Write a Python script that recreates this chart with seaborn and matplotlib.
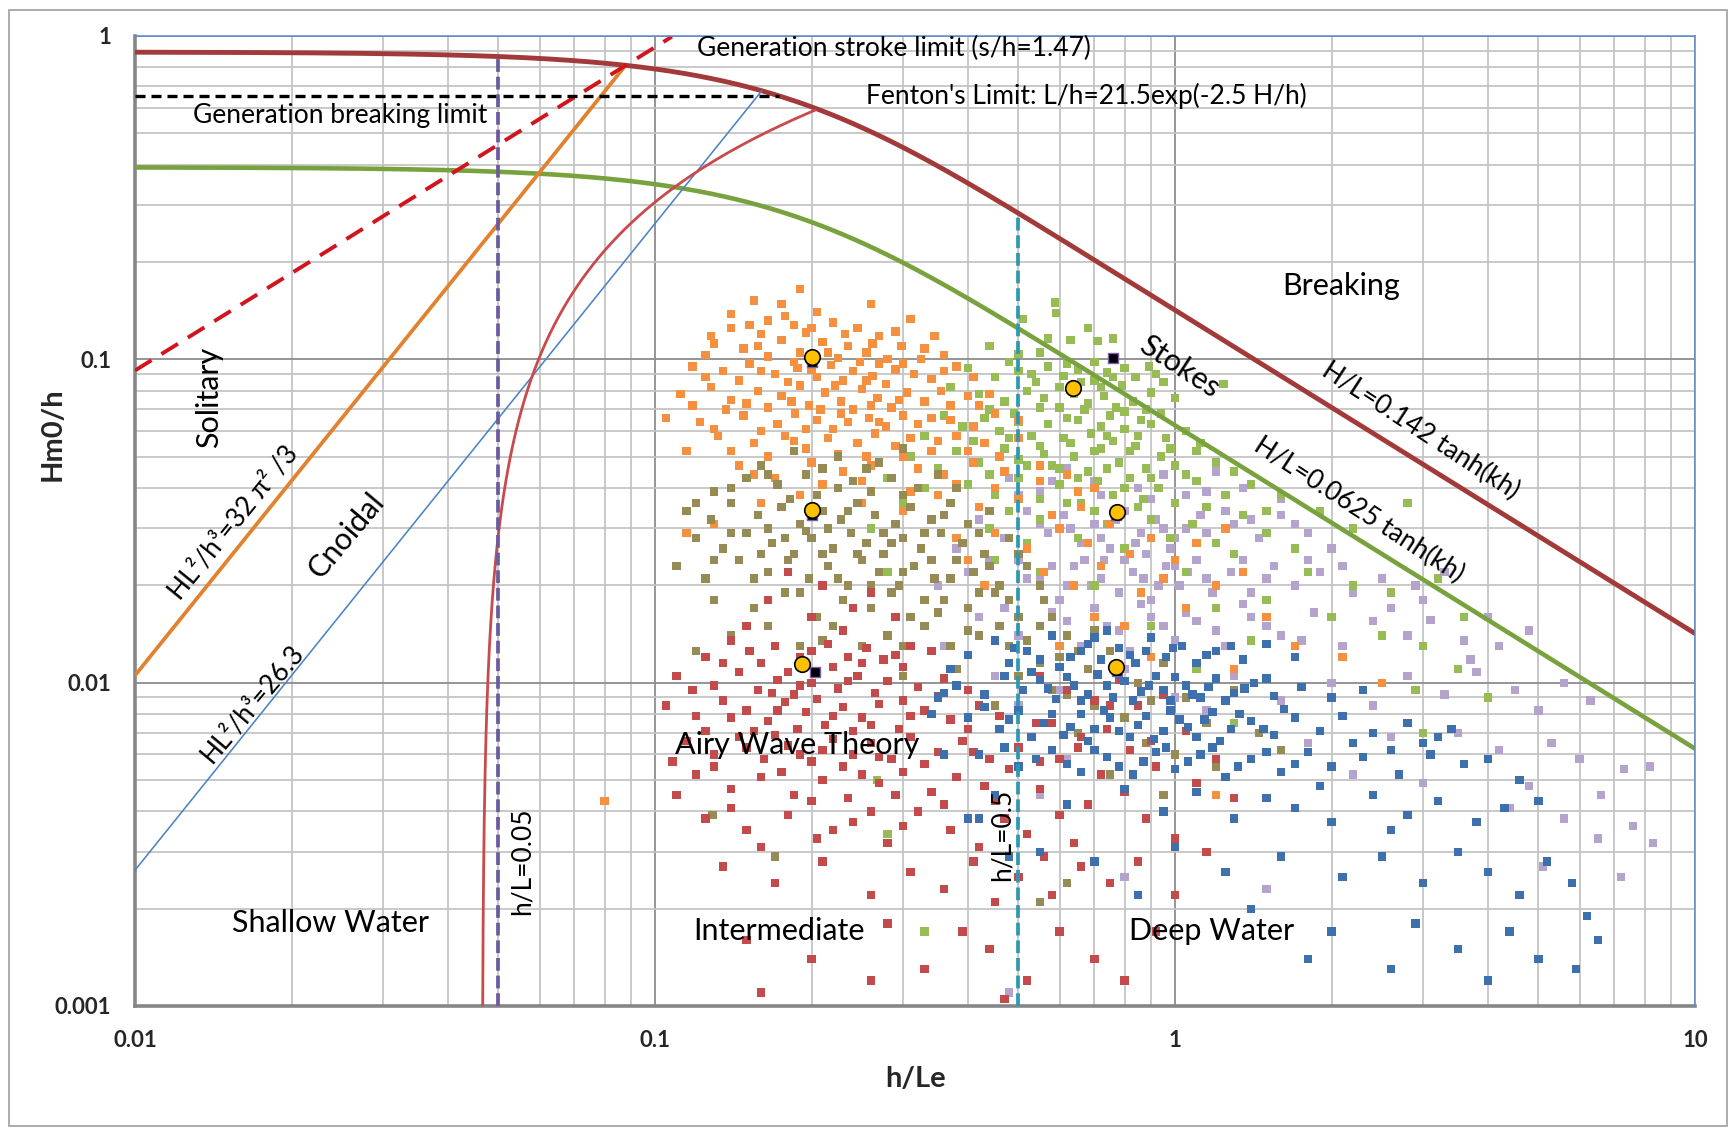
import numpy as np
import matplotlib
matplotlib.use("Agg")
import matplotlib.pyplot as plt
import seaborn as sns
from matplotlib.ticker import LogLocator, NullFormatter
from matplotlib.patches import Rectangle

# ---------------- data ----------------
x_ticks = [0.01, 0.1, 1, 10]
x_tick_labels = ["0.01", "0.1", "1", "10"]
y_ticks = [0.001, 0.01, 0.1, 1]
y_tick_labels = ["0.001", "0.01", "0.1", "1"]

# theoretical limits (coefficients as labelled on the chart)
BREAK_COEF = 0.142          # H/L = 0.142 tanh(kh)
STOKES_COEF = 0.0625        # H/L = 0.0625 tanh(kh)
STROKE_S_H = 1.47           # generation stroke limit s/h
GEN_BREAK = 0.65            # generation breaking limit H/h
URSELL_SOL = 32 * np.pi ** 2 / 3   # HL^2/h^3 = 32 pi^2 / 3
URSELL_CN = 26.3            # HL^2/h^3 = 26.3
FENTON_A, FENTON_B = 21.5, 2.5     # L/h = 21.5 exp(-2.5 H/h)
SHALLOW_LIM = 0.05          # h/L = 0.05
DEEP_LIM = 0.5              # h/L = 0.5

orange_pts = [
    (0.19,0.165),(0.155,0.152),(0.175,0.148),(0.26,0.148),(0.205,0.14),(0.14,0.138),
    (0.165,0.132),(0.185,0.128),(0.22,0.13),(0.245,0.125),(0.29,0.122),(0.16,0.12),(0.195,0.121),(0.31,0.133),(0.14,0.125),(0.27,0.118),
    (0.13,0.112),(0.148,0.108),(0.175,0.115),(0.21,0.113),(0.235,0.11),(0.255,0.105),(0.28,0.1),(0.33,0.108),(0.36,0.103),(0.165,0.102),(0.19,0.105),(0.125,0.103),(0.225,0.101),
    (0.118,0.095),(0.135,0.092),(0.152,0.097),(0.17,0.09),(0.188,0.094),(0.205,0.088),(0.218,0.096),(0.24,0.092),(0.262,0.089),(0.29,0.093),(0.315,0.09),(0.34,0.087),(0.38,0.095),(0.145,0.086),(0.23,0.086),(0.27,0.097),
    (0.112,0.078),(0.128,0.082),(0.14,0.075),(0.158,0.08),(0.175,0.077),(0.19,0.083),(0.198,0.072),(0.212,0.079),(0.228,0.074),(0.25,0.081),(0.268,0.076),(0.285,0.071),(0.305,0.079),(0.33,0.074),(0.355,0.08),(0.4,0.077),(0.42,0.072),(0.165,0.071),(0.24,0.07),(0.137,0.07),
    (0.105,0.066),(0.122,0.064),(0.148,0.067),(0.172,0.063),(0.186,0.068),(0.205,0.065),(0.22,0.061),(0.258,0.066),(0.278,0.062),(0.3,0.067),(0.32,0.063),(0.37,0.065),(0.45,0.068),(0.235,0.064),
    (0.132,0.058),(0.155,0.055),(0.178,0.058),(0.195,0.053),(0.215,0.057),(0.245,0.055),(0.265,0.059),(0.29,0.054),(0.31,0.057),(0.34,0.052),(0.38,0.058),(0.43,0.055),(0.5,0.057),(0.115,0.052),
    (0.145,0.047),(0.17,0.043),(0.2,0.048),(0.23,0.045),(0.26,0.047),(0.285,0.043),(0.32,0.046),(0.36,0.044),(0.41,0.048),(0.47,0.045),(0.55,0.047),(0.21,0.041),
    (0.19,0.038),(0.25,0.036),(0.3,0.034),(0.35,0.038),(0.42,0.035),(0.5,0.037),(0.58,0.033),(0.65,0.039),(0.13,0.031),(0.16,0.036),
    (0.45,0.029),(0.52,0.026),(0.6,0.03),(0.68,0.027),(0.75,0.031),(0.82,0.025),(0.9,0.028),(1.0,0.024),(1.1,0.027),(0.56,0.022),(0.64,0.02),(0.72,0.023),
    (0.86,0.019),(0.95,0.021),(1.2,0.02),(1.35,0.022),(0.48,0.018),(0.7,0.016),(0.8,0.015),(1.05,0.017),(1.5,0.016),(0.6,0.013),(0.9,0.012),(1.3,0.011),
    (1.7,0.013),(2.1,0.012),(2.5,0.01),(0.4,0.024),(0.43,0.02),(0.38,0.028),(1.25,0.03),(0.66,0.035),(2.0,0.009),
    (0.08,0.0043),(0.115,0.029),(1.2,0.0045),
    (0.128,0.118),(0.152,0.128),(0.178,0.136),(0.2,0.125),(0.232,0.12),(0.262,0.112),(0.298,0.11),(0.345,0.118),(0.158,0.11),(0.185,0.098),(0.215,0.105),(0.248,0.098),
    (0.3,0.097),(0.325,0.1),(0.41,0.088),(0.125,0.088),(0.16,0.092),(0.18,0.085),(0.2,0.093),(0.222,0.083),(0.255,0.086),(0.278,0.084),(0.36,0.092),(0.118,0.072),
    (0.15,0.073),(0.183,0.074),(0.208,0.07),(0.26,0.072),(0.295,0.075),(0.37,0.072),(0.44,0.078),(0.13,0.061),(0.16,0.06),(0.195,0.061),(0.228,0.068),(0.27,0.064),
    (0.34,0.066),(0.41,0.062),(0.5,0.065),(0.14,0.052),(0.165,0.05),(0.185,0.056),(0.225,0.051),(0.255,0.05),(0.3,0.05),(0.35,0.056),(0.4,0.052),(0.46,0.05),
    (0.155,0.044),(0.25,0.042),(0.31,0.039),(0.38,0.041),(0.45,0.04),(0.55,0.042),(0.62,0.044),(0.7,0.04),
]

olive_pts = [
    (0.185,0.052),(0.225,0.05),(0.16,0.047),(0.27,0.048),(0.3,0.053),(0.21,0.046),
    (0.15,0.043),(0.172,0.041),(0.195,0.044),(0.24,0.042),(0.26,0.039),(0.285,0.043),(0.32,0.04),(0.13,0.039),(0.205,0.038),(0.35,0.044),
    (0.115,0.034),(0.128,0.032),(0.14,0.036),(0.158,0.033),(0.175,0.035),(0.19,0.031),(0.21,0.034),(0.228,0.032),(0.245,0.036),(0.265,0.033),(0.29,0.031),(0.31,0.035),(0.34,0.032),(0.37,0.036),(0.4,0.031),(0.44,0.034),(0.182,0.037),(0.215,0.03),
    (0.12,0.028),(0.135,0.026),(0.15,0.029),(0.168,0.027),(0.185,0.025),(0.2,0.028),(0.22,0.026),(0.238,0.029),(0.255,0.027),(0.275,0.025),(0.3,0.028),(0.325,0.026),(0.355,0.029),(0.39,0.027),(0.43,0.025),(0.48,0.028),(0.16,0.025),(0.195,0.0295),
    (0.11,0.023),(0.125,0.021),(0.145,0.024),(0.165,0.022),(0.18,0.024),(0.198,0.021),(0.215,0.023),(0.235,0.02),(0.25,0.024),(0.27,0.022),(0.295,0.02),(0.315,0.023),(0.345,0.021),(0.38,0.024),(0.41,0.022),(0.46,0.02),(0.52,0.023),
    (0.13,0.018),(0.155,0.017),(0.178,0.019),(0.205,0.016),(0.23,0.018),(0.26,0.017),(0.285,0.019),(0.31,0.016),(0.36,0.018),(0.4,0.017),(0.45,0.019),(0.5,0.016),(0.56,0.018),
    (0.14,0.014),(0.19,0.013),(0.22,0.015),(0.25,0.013),(0.28,0.014),(0.33,0.015),(0.37,0.013),(0.42,0.014),(0.48,0.013),(0.55,0.015),(0.62,0.014),(0.12,0.0125),
    (0.6,0.012),(0.68,0.011),(0.75,0.0125),(0.85,0.01),(0.95,0.0115),(1.05,0.009),(0.58,0.0095),(0.7,0.0085),(0.8,0.0078),(0.9,0.0088),(1.15,0.0075),(1.3,0.0095),
    (0.65,0.007),(0.88,0.0065),(1.0,0.006),(1.2,0.0055),(1.45,0.007),(0.5,0.0105),(0.45,0.0085),(0.75,0.0052),(0.95,0.0045),(1.6,0.0062),(0.38,0.011),(0.3,0.0105),
    (0.129,0.0039),(0.17,0.0029),(0.62,0.0024),(0.55,0.0021),
    (0.165,0.044),(0.255,0.046),(0.14,0.04),(0.225,0.04),(0.3,0.038),(0.38,0.04),(0.12,0.036),(0.165,0.03),(0.2,0.033),(0.235,0.034),(0.275,0.029),(0.33,0.029),
    (0.36,0.033),(0.42,0.029),(0.14,0.029),(0.178,0.028),(0.21,0.025),(0.245,0.025),(0.285,0.027),(0.34,0.024),(0.37,0.021),(0.44,0.023),(0.5,0.025),(0.13,0.024),
    (0.155,0.021),(0.19,0.019),(0.225,0.021),(0.26,0.02),(0.3,0.022),(0.33,0.018),(0.42,0.019),(0.48,0.018),(0.55,0.02),(0.165,0.015),(0.21,0.0135),(0.3,0.013),
    (0.35,0.0165),(0.4,0.0145),(0.46,0.015),(0.52,0.0135),(0.58,0.016),(0.65,0.0125),(0.7,0.0145),(0.78,0.0105),(0.62,0.0092),(0.55,0.0115),
]

red_pts = [
    (0.18,0.022),(0.21,0.02),(0.165,0.018),(0.24,0.017),(0.2,0.016),(0.15,0.015),(0.23,0.0145),(0.26,0.019),(0.29,0.016),
    (0.14,0.0135),(0.17,0.013),(0.19,0.012),(0.215,0.0132),(0.235,0.012),(0.255,0.0128),(0.275,0.0118),(0.31,0.013),(0.125,0.012),(0.16,0.0115),(0.22,0.0112),(0.3,0.0112),(0.34,0.0125),
    (0.11,0.0105),(0.13,0.0098),(0.145,0.0108),(0.158,0.0095),(0.172,0.0102),(0.185,0.0092),(0.2,0.01),(0.225,0.0096),(0.245,0.0105),(0.265,0.0093),(0.28,0.0101),(0.32,0.0097),(0.36,0.0103),(0.4,0.0095),(0.18,0.0108),
    (0.105,0.0085),(0.12,0.0079),(0.135,0.0088),(0.15,0.0082),(0.165,0.0076),(0.178,0.0087),(0.195,0.0081),(0.212,0.0074),(0.23,0.0084),(0.25,0.0078),(0.27,0.0086),(0.295,0.0072),(0.33,0.0082),(0.37,0.0077),(0.42,0.0085),(0.46,0.0079),(0.155,0.0071),(0.205,0.0089),
    (0.115,0.0066),(0.13,0.006),(0.145,0.0068),(0.162,0.0058),(0.18,0.0064),(0.2,0.0057),(0.22,0.0067),(0.24,0.006),(0.26,0.0065),(0.285,0.0058),(0.31,0.0068),(0.35,0.0061),(0.39,0.0066),(0.44,0.0058),(0.5,0.0063),(0.108,0.0057),
    (0.12,0.0052),(0.14,0.0047),(0.16,0.0051),(0.185,0.0045),(0.21,0.005),(0.235,0.0044),(0.27,0.0049),(0.3,0.0053),(0.34,0.0046),(0.38,0.0051),(0.43,0.0048),(0.48,0.0054),(0.55,0.0047),(0.11,0.0045),
    (0.125,0.0038),(0.15,0.0035),(0.18,0.0039),(0.205,0.0033),(0.24,0.0037),(0.28,0.0032),(0.32,0.004),(0.37,0.0035),(0.42,0.0031),(0.47,0.0038),(0.52,0.0034),(0.6,0.0039),(0.16,0.0031),
    (0.135,0.0027),(0.17,0.0024),(0.21,0.0028),(0.26,0.0022),(0.31,0.0026),(0.36,0.0023),(0.41,0.0028),(0.45,0.0021),(0.5,0.0025),(0.58,0.0022),(0.66,0.0027),(0.75,0.0024),
    (0.15,0.0016),(0.2,0.0014),(0.28,0.0018),(0.33,0.0013),(0.39,0.0017),(0.44,0.0015),(0.52,0.0012),(0.6,0.0017),(0.7,0.0014),(0.8,0.0012),(0.16,0.0011),(0.47,0.00105),(0.26,0.0012),
    (0.55,0.0105),(0.62,0.0095),(0.7,0.0088),(0.78,0.0102),(0.85,0.0085),(0.95,0.0092),(0.58,0.0075),(0.66,0.0068),(0.74,0.0072),(0.82,0.0062),(0.9,0.0066),(1.05,0.0071),
    (0.6,0.0058),(0.72,0.0052),(0.8,0.0046),(0.92,0.0055),(1.1,0.0049),(1.2,0.0058),(0.68,0.0042),(0.88,0.0038),(1.0,0.0033),(1.15,0.003),(0.64,0.0032),(0.56,0.0029),
    (0.85,0.0028),(1.0,0.0022),(0.92,0.0017),(1.3,0.0044),
    (0.135,0.0115),(0.152,0.0125),(0.2,0.0125),(0.25,0.0115),(0.29,0.0122),(0.118,0.0095),(0.168,0.0093),(0.19,0.0098),(0.235,0.0101),(0.3,0.0088),(0.35,0.0091),
    (0.14,0.0078),(0.172,0.0082),(0.188,0.0072),(0.22,0.0079),(0.24,0.0071),(0.26,0.0074),(0.31,0.0079),(0.4,0.0072),(0.125,0.0071),(0.15,0.0063),(0.17,0.0069),
    (0.19,0.006),(0.21,0.0062),(0.23,0.0055),(0.27,0.0059),(0.33,0.0056),(0.41,0.0061),(0.13,0.0055),(0.175,0.0053),(0.25,0.0052),(0.29,0.0045),(0.36,0.0042),
    (0.45,0.0043),(0.2,0.0043),(0.14,0.0041),(0.26,0.004),(0.22,0.0035),(0.3,0.0036),(0.55,0.0057),(0.65,0.0063),(0.75,0.0085),(0.7,0.0062),(0.54,0.0075),
]

green_pts = [
    (0.587,0.15),(0.59,0.139),(0.51,0.133),(0.44,0.11),(0.57,0.116),(0.63,0.115),(0.71,0.114),(0.76,0.116),(0.89,0.095),(1.24,0.084),(0.68,0.125),(0.5,0.104),
    (0.4,0.094),(0.45,0.088),(0.5,0.092),(0.54,0.085),(0.57,0.095),(0.61,0.089),(0.65,0.093),(0.7,0.086),(0.74,0.091),(0.79,0.083),(0.84,0.088),(0.9,0.079),(0.95,0.085),
    (0.42,0.078),(0.47,0.074),(0.52,0.08),(0.56,0.076),(0.6,0.071),(0.64,0.078),(0.68,0.073),(0.73,0.077),(0.77,0.071),(0.83,0.074),(0.88,0.07),(1.0,0.076),(0.37,0.082),
    (0.36,0.067),(0.39,0.062),(0.43,0.066),(0.46,0.06),(0.5,0.064),(0.53,0.058),(0.57,0.063),(0.61,0.057),(0.65,0.065),(0.69,0.059),(0.72,0.062),(0.76,0.056),(0.8,0.061),(0.85,0.058),(0.9,0.063),(0.96,0.057),(1.05,0.06),(1.12,0.055),(0.33,0.058),
    (0.38,0.052),(0.42,0.048),(0.47,0.053),(0.52,0.047),(0.56,0.051),(0.6,0.046),(0.64,0.05),(0.68,0.045),(0.72,0.053),(0.78,0.048),(0.82,0.052),(0.88,0.046),(0.94,0.05),(1.0,0.047),(1.1,0.052),(1.2,0.048),(0.31,0.05),(0.35,0.046),
    (0.4,0.041),(0.45,0.038),(0.5,0.043),(0.55,0.037),(0.6,0.041),(0.66,0.036),(0.71,0.042),(0.76,0.038),(0.82,0.043),(0.87,0.037),(0.93,0.04),(1.0,0.036),(1.1,0.042),(1.25,0.038),(1.4,0.041),(0.33,0.04),(0.28,0.043),
    (0.44,0.03),(0.52,0.027),(0.58,0.033),(0.65,0.028),(0.74,0.031),(0.8,0.026),(0.9,0.032),(0.98,0.028),(1.08,0.031),(1.2,0.027),(1.35,0.033),(1.5,0.029),(1.7,0.026),(0.38,0.028),
    (1.6,0.038),(1.9,0.034),(2.2,0.03),(2.8,0.036),(1.8,0.022),(2.2,0.02),(2.6,0.019),(3.2,0.021),(1.5,0.018),(2.0,0.016),(2.5,0.014),(3.0,0.013),(3.6,0.016),
    (1.2,0.017),(1.4,0.0135),(2.9,0.0095),(3.5,0.011),(4.0,0.009),(1.1,0.011),(0.9,0.015),(0.7,0.02),(0.55,0.022),(0.45,0.024),(1.3,0.0075),(3.0,0.007),
    (0.3,0.036),(0.26,0.03),(0.28,0.022),(0.267,0.005),(0.28,0.0034),(0.33,0.0017),
    (0.48,0.098),(0.55,0.105),(0.62,0.097),(0.7,0.098),(0.8,0.094),(0.53,0.09),(0.6,0.082),(0.66,0.085),(0.72,0.082),(0.76,0.088),(0.92,0.09),(0.44,0.07),
    (0.49,0.068),(0.55,0.071),(0.62,0.066),(0.67,0.07),(0.75,0.067),(0.8,0.069),(0.86,0.065),(0.94,0.068),(0.41,0.056),(0.48,0.057),(0.55,0.054),(0.63,0.055),
    (0.7,0.052),(0.74,0.058),(0.84,0.054),(0.98,0.053),(0.44,0.044),(0.5,0.049),(0.58,0.047),(0.65,0.043),(0.74,0.046),(0.8,0.04),(0.9,0.043),(1.05,0.044),
    (0.48,0.034),(0.55,0.032),(0.62,0.036),(0.7,0.034),(0.85,0.035),(1.15,0.035),(1.3,0.045),(1.5,0.034),(1.3,0.025),(1.05,0.022),
]

lavender_pts = [
    (0.62,0.046),(0.7,0.042),(0.78,0.048),(0.85,0.04),(0.95,0.044),(1.05,0.038),(0.55,0.039),(1.2,0.045),(1.35,0.04),(0.48,0.043),(1.6,0.037),(0.66,0.036),
    (0.42,0.032),(0.47,0.028),(0.52,0.034),(0.57,0.029),(0.61,0.033),(0.66,0.027),(0.7,0.031),(0.75,0.026),(0.8,0.034),(0.86,0.029),(0.92,0.032),(0.98,0.026),
    (1.05,0.03),(1.12,0.033),(1.2,0.027),(1.3,0.031),(1.45,0.028),(1.6,0.033),(1.8,0.029),(2.0,0.026),(0.38,0.026),(0.88,0.025),
    (0.4,0.022),(0.45,0.019),(0.5,0.024),(0.55,0.021),(0.6,0.018),(0.64,0.023),(0.69,0.02),(0.73,0.024),(0.78,0.019),(0.83,0.022),(0.9,0.018),(0.96,0.023),
    (1.02,0.02),(1.1,0.024),(1.18,0.019),(1.28,0.022),(1.4,0.019),(1.55,0.023),(1.7,0.02),(1.9,0.022),(2.2,0.019),(2.5,0.021),(2.9,0.02),(3.3,0.022),(0.35,0.02),
    (0.42,0.016),(0.5,0.014),(0.58,0.0165),(0.66,0.013),(0.74,0.015),(0.82,0.0125),(0.9,0.016),(1.0,0.0135),(1.1,0.0155),(1.25,0.013),(1.4,0.016),(1.6,0.014),
    (1.85,0.0165),(2.1,0.013),(2.4,0.0155),(2.8,0.014),(3.1,0.0156),(3.7,0.0118),(4.2,0.013),(4.8,0.0145),(0.36,0.013),
    (0.45,0.0105),(0.6,0.0095),(0.8,0.011),(1.0,0.009),(1.3,0.0105),(1.6,0.0088),(2.0,0.01),(2.4,0.0085),(2.8,0.0105),(3.3,0.0092),(3.8,0.0108),(4.5,0.0095),
    (5.0,0.0082),(5.6,0.01),(6.3,0.0088),(0.5,0.0085),(1.15,0.0082),
    (1.8,0.0065),(2.6,0.0068),(3.5,0.007),(4.2,0.0062),(5.3,0.0065),(6.0,0.0058),(7.3,0.0054),(8.2,0.0055),(2.2,0.0052),(3.0,0.0049),(4.8,0.0048),(6.6,0.0045),
    (5.6,0.0038),(6.5,0.0033),(7.6,0.0036),(8.3,0.0032),(4.4,0.0041),(5.1,0.0027),(7.2,0.0025),(1.5,0.0023),(0.48,0.0011),(0.8,0.0025),(0.55,0.0045),(0.62,0.0058),
    (0.5,0.038),(0.58,0.042),(0.72,0.038),(0.9,0.037),(1.15,0.039),(0.55,0.031),(0.63,0.03),(0.72,0.028),(0.77,0.032),(0.84,0.027),(0.95,0.03),(1.0,0.028),
    (1.15,0.029),(1.25,0.034),(1.4,0.032),(1.7,0.031),(0.44,0.024),(0.52,0.021),(0.58,0.023),(0.62,0.02),(0.67,0.024),(0.72,0.021),(0.8,0.024),(0.87,0.021),
    (0.93,0.02),(1.0,0.023),(1.06,0.022),(1.15,0.021),(1.35,0.024),(1.5,0.021),(1.8,0.024),(2.1,0.023),(0.47,0.017),(0.55,0.015),(0.62,0.0155),(0.7,0.017),
    (0.78,0.0145),(0.86,0.0175),(0.95,0.015),(1.05,0.0165),(1.2,0.0145),(1.35,0.0175),(1.5,0.015),(1.75,0.0135),(2.0,0.016),(2.6,0.017),(3.0,0.018),(3.6,0.0135),(4.0,0.016),
]

blue_pts = [
    (0.45,0.0135),(0.52,0.0125),(0.58,0.014),(0.63,0.012),(0.68,0.0132),(0.72,0.0118),(0.78,0.0128),(0.84,0.0115),(0.9,0.0138),(0.96,0.012),(1.03,0.013),(1.1,0.0115),
    (1.2,0.0125),(1.35,0.0118),(1.5,0.0132),(0.48,0.0115),(0.6,0.0112),(0.74,0.0145),(1.7,0.012),(0.4,0.0122),
    (0.38,0.0098),(0.43,0.0092),(0.47,0.0105),(0.51,0.0095),(0.55,0.0102),(0.59,0.0089),(0.64,0.0098),(0.68,0.0092),(0.71,0.0106),(0.76,0.009),(0.8,0.0101),(0.86,0.0094),
    (0.92,0.0105),(0.98,0.0088),(1.05,0.0098),(1.12,0.009),(1.2,0.0103),(1.3,0.0093),(1.42,0.01),(1.55,0.0091),(1.75,0.0097),(2.0,0.009),(2.3,0.0095),(0.35,0.009),
    (0.4,0.0078),(0.46,0.0072),(0.5,0.0082),(0.56,0.0075),(0.61,0.0069),(0.66,0.008),(0.7,0.0072),(0.75,0.0078),(0.82,0.0068),(0.88,0.0079),(0.95,0.0071),(1.02,0.0077),
    (1.1,0.0068),(1.18,0.0081),(1.28,0.0072),(1.4,0.0076),(1.55,0.0069),(1.7,0.0078),(1.9,0.0071),(2.1,0.0079),(2.4,0.007),(2.8,0.0075),(3.2,0.0068),
    (0.42,0.006),(0.5,0.0055),(0.58,0.0062),(0.66,0.0053),(0.74,0.0059),(0.83,0.0052),(0.92,0.0061),(1.0,0.0054),(1.12,0.006),(1.25,0.0051),(1.4,0.0058),(1.6,0.0053),
    (1.8,0.0061),(2.0,0.0055),(2.3,0.0059),(2.7,0.0052),(3.1,0.006),(3.6,0.0056),
    (0.45,0.0045),(0.62,0.0042),(0.8,0.0047),(0.95,0.004),(1.1,0.0046),(1.3,0.0038),(1.5,0.0044),(1.7,0.0041),(2.0,0.0037),(2.4,0.0045),(2.8,0.0039),(3.2,0.0043),
    (3.8,0.0037),(4.3,0.0041),(1.9,0.0048),(2.6,0.0035),
    (0.55,0.003),(0.7,0.0028),(1.0,0.0031),(1.25,0.0026),(1.6,0.0029),(2.1,0.0025),(2.5,0.0029),(3.0,0.0024),(3.5,0.003),(4.0,0.0026),(4.6,0.0022),(5.2,0.0028),
    (5.8,0.0024),(6.2,0.0019),(0.85,0.0022),(1.4,0.002),(2.0,0.0017),(2.9,0.0018),(3.5,0.0015),(4.4,0.0017),(5.0,0.0014),(5.9,0.0013),(6.5,0.0016),(1.8,0.0014),
    (2.6,0.0013),(4.0,0.0012),(0.48,0.0029),
    (0.34,0.008),(0.36,0.0093),(0.4,0.0038),(0.42,0.0038),(0.37,0.011),(0.36,0.006),
    (0.49,0.0128),(0.55,0.0118),(0.66,0.0125),(0.7,0.0138),(0.82,0.0122),(0.88,0.0125),(0.99,0.0128),(1.15,0.0122),(1.28,0.013),(0.53,0.0108),(0.57,0.0096),(0.62,0.0104),
    (0.66,0.0088),(0.74,0.0098),(0.78,0.0106),(0.83,0.0088),(0.89,0.0098),(0.95,0.0095),(1.0,0.0104),(1.08,0.0092),(1.16,0.0097),(1.25,0.0088),(1.36,0.0096),(1.5,0.0103),
    (0.43,0.0084),(0.48,0.0077),(0.53,0.0068),(0.58,0.008),(0.63,0.0073),(0.68,0.0066),(0.73,0.0082),(0.78,0.0071),(0.85,0.0074),(0.91,0.0067),(0.98,0.0082),(1.06,0.0073),
    (1.14,0.0077),(1.22,0.0066),(1.33,0.008),(1.48,0.0072),(1.62,0.0083),(0.47,0.0063),(0.54,0.0058),(0.62,0.0056),(0.7,0.0062),(0.78,0.0055),(0.87,0.0057),(0.96,0.0063),
    (1.06,0.0057),(1.18,0.0063),(1.32,0.0055),(1.5,0.0061),(1.7,0.0056),(2.2,0.0065),(2.6,0.0062),(3.0,0.0065),(3.4,0.0072),(4.0,0.0058),(4.6,0.005),(5.0,0.0043),
]

target_x = [0.2, 0.2, 0.192, 0.637, 0.773, 0.77]
target_y = [0.102, 0.0343, 0.0114, 0.0813, 0.0336, 0.0112]
measured_x = [0.2, 0.2, 0.203, 0.76, 0.77, 0.772]
measured_y = [0.098, 0.033, 0.0108, 0.101, 0.033, 0.0109]

# ---------------- styling ----------------
sns.set_style("white")
plt.rcParams["font.family"] = ["Lato", "DejaVu Sans"]

W, H = 1730, 1128
fig = plt.figure(figsize=(W / 100, H / 100), dpi=100)
ax = fig.add_axes([135 / W, 1 - 1006 / H, 1560 / W, 970 / H])
ax.set_xscale("log")
ax.set_yscale("log")

# ---------------- scatter clouds ----------------
series = [
    (lavender_pts, "#B4A3CC"),
    (green_pts, "#97BC55"),
    (orange_pts, "#F59040"),
    (olive_pts, "#968B55"),
    (red_pts, "#C44B4B"),
    (blue_pts, "#3D70AD"),
]
for pts, col in series:
    px = [p[0] for p in pts]
    py = [p[1] for p in pts]
    sns.scatterplot(x=px, y=py, ax=ax, marker="s", s=36, color=col,
                    linewidth=0, edgecolor="none", zorder=3, legend=False)

# ---------------- theoretical curves ----------------
def breaking(x):
    return BREAK_COEF * np.tanh(2 * np.pi * x) / x

xs = np.logspace(-2, 1, 800)
line_kw = dict(ax=ax, estimator=None, sort=False, legend=False)

# Stokes steepness limit (green)
sns.lineplot(x=xs, y=STOKES_COEF * np.tanh(2 * np.pi * xs) / xs, color="#78A23E", lw=3.3, zorder=5, **line_kw)
# Breaking limit (dark red)
sns.lineplot(x=xs, y=breaking(xs), color="#A33A3A", lw=3.5, zorder=5, **line_kw)

# Ursell lines
m = URSELL_SOL * xs ** 2 <= breaking(xs)
sns.lineplot(x=xs[m], y=URSELL_SOL * xs[m] ** 2, color="#E2812E", lw=2.7, zorder=5, **line_kw)
m = URSELL_CN * xs ** 2 <= breaking(xs)
sns.lineplot(x=xs[m], y=URSELL_CN * xs[m] ** 2, color="#4A84C4", lw=1.15, zorder=5, **line_kw)

# Fenton limit
ys = np.logspace(-3, 0, 800)
xf = np.exp(FENTON_B * ys) / FENTON_A
m = ys <= breaking(xf)
sns.lineplot(x=xf[m], y=ys[m], color="#C94A4C", lw=2.0, zorder=5, **line_kw)

# Generation stroke limit (red dashed)
ystroke = STROKE_S_H * 2 * np.pi * xs
m = ystroke <= 1.0
sns.lineplot(x=xs[m], y=ystroke[m], color="#D2141E", lw=2.8, linestyle=(0, (5.0, 3.0)), zorder=6, **line_kw)

# Generation breaking limit (black dashed)
m = breaking(xs) >= GEN_BREAK
sns.lineplot(x=xs[m], y=np.full(m.sum(), GEN_BREAK), color="black", lw=2.4, linestyle=(0, (3.0, 1.8)), zorder=6, **line_kw)

# depth limits
for xv, col in [(SHALLOW_LIM, "#6B5B9E"), (DEEP_LIM, "#2D98B2")]:
    sns.lineplot(x=[xv, xv], y=[0.001, breaking(xv)], color=col, lw=2.7,
                 linestyle=(0, (3.4, 1.3)), zorder=6, **line_kw)

# highlighted cases
sns.scatterplot(x=measured_x, y=measured_y, ax=ax, marker="s", s=55, color="black",
                edgecolor="#7B5FA8", linewidth=1.0, zorder=7, legend=False)
sns.scatterplot(x=target_x, y=target_y, ax=ax, marker="o", s=125, color="#FFC000",
                edgecolor="black", linewidth=1.2, zorder=8, legend=False)

# ---------------- axes ----------------
ax.set_xlim(0.01, 10)
ax.set_ylim(0.001, 1)
ax.set_xticks(x_ticks, labels=x_tick_labels, fontsize=16, fontweight="bold")
ax.set_yticks(y_ticks, labels=y_tick_labels, fontsize=16, fontweight="bold")
ax.xaxis.set_minor_locator(LogLocator(base=10, subs=np.arange(2, 10)))
ax.yaxis.set_minor_locator(LogLocator(base=10, subs=np.arange(2, 10)))
ax.xaxis.set_minor_formatter(NullFormatter())
ax.yaxis.set_minor_formatter(NullFormatter())
ax.set_axisbelow(True)
ax.grid(which="major", color="#8C8C8C", lw=1.3)
ax.grid(which="minor", color="#C3C3C3", lw=1.25)
ax.tick_params(which="minor", length=0)
ax.tick_params(which="major", length=6, width=2.4, color="#888888")
ax.tick_params(axis="x", pad=11)
ax.tick_params(axis="y", pad=11)
ax.set_xlabel("")
ax.set_ylabel("")
for s in ("left", "bottom"):
    ax.spines[s].set_color("#868686")
    ax.spines[s].set_linewidth(2.6)
for s in ("top", "right"):
    ax.spines[s].set_color("#5B8AC9")
    ax.spines[s].set_linewidth(1.1)
    ax.spines[s].set_zorder(10)

# ---------------- annotations ----------------
small = 19
big = 22
txt = dict(ha="left", va="center", color="black", zorder=12)
ax.text(0.1205, 0.912, "Generation stroke limit (s/h=1.47)", fontsize=small, **txt)
ax.text(0.255, 0.652, "Fenton's Limit: L/h=21.5exp(-2.5 H/h)", fontsize=small, **txt)
ax.text(0.0129, 0.569, "Generation breaking limit", fontsize=small, **txt)
ax.text(1.61, 0.168, "Breaking", fontsize=big, **txt)
ax.text(0.1093, 0.00643, "Airy Wave Theory", fontsize=big, **txt)
ax.text(0.01537, 0.00181, "Shallow Water", fontsize=big, **txt)
ax.text(0.1183, 0.0017, "Intermediate", fontsize=big, **txt)
ax.text(0.816, 0.0017, "Deep Water", fontsize=big, **txt)

ctr = dict(ha="center", va="center", color="black", zorder=12, rotation_mode="anchor")
ax.text(1.02, 0.0945, "Stokes", fontsize=big, rotation=-33, **ctr)
ax.text(2.97, 0.0603, "H/L=0.142 tanh(kh)", fontsize=small, rotation=-33, **ctr)
ax.text(2.26, 0.0341, "H/L=0.0625 tanh(kh)", fontsize=small, rotation=-33, **ctr)
ax.text(0.0139, 0.0762, "Solitary", fontsize=big, rotation=90, **ctr)
ax.text(0.0155, 0.0313, "HL²/h³=32 π² /3", fontsize=small, rotation=51, **ctr)
ax.text(0.0255, 0.0285, "Cnoidal", fontsize=big, rotation=50, **ctr)
ax.text(0.0168, 0.0086, "HL²/h³=26.3", fontsize=small, rotation=50, **ctr)
ax.text(0.0555, 0.00281, "h/L=0.05", fontsize=small, rotation=90, **ctr)
ax.text(0.465, 0.00338, "h/L=0.5", fontsize=small, rotation=90, **ctr)

fig.text(53 / W, 1 - 434 / H, "Hm0/h", rotation=90, fontsize=21, fontweight="bold",
         ha="center", va="center")
fig.text(916 / W, 1 - 1079 / H, "h/Le", fontsize=21, fontweight="bold",
         ha="center", va="center")

fig.add_artist(Rectangle((9 / W, 1 - 1126 / H), 1718 / W, 1116 / H, transform=fig.transFigure,
                         fill=False, edgecolor="#A6A6A6", linewidth=1.3))

fig.savefig("out.png", dpi=100)
